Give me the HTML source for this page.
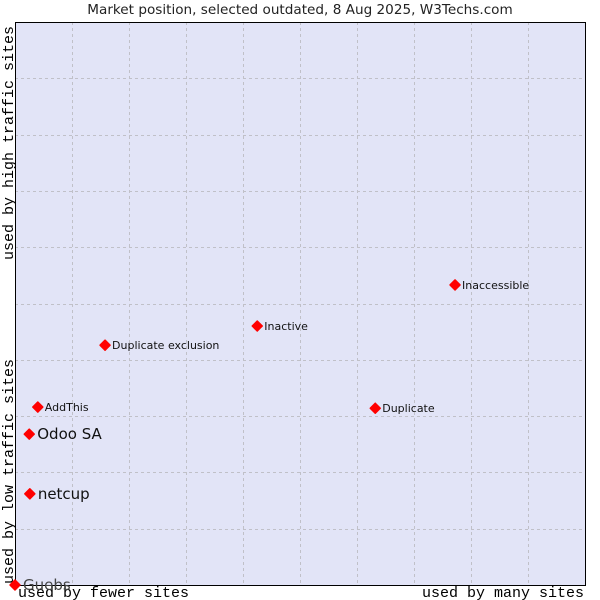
<!DOCTYPE html>
<html><head><meta charset="utf-8"><style>
html,body{margin:0;padding:0;background:#fff;width:600px;height:600px;overflow:hidden}
svg{display:block}
</style></head><body>
<svg id="chart" width="600" height="600" xmlns="http://www.w3.org/2000/svg">
<text x="300" y="14" text-anchor="middle" font-family="DejaVu Sans, sans-serif" font-size="13.6" fill="#222">Market position, selected outdated, 8 Aug 2025, W3Techs.com</text>
<rect x="15" y="22" width="570" height="563" fill="#e2e4f7"/>
<g id="grid"></g>
<line x1="15.5" y1="22" x2="15.5" y2="586" stroke="#000"/>
<line x1="15" y1="585.5" x2="586" y2="585.5" stroke="#000"/>
<line x1="15" y1="22.5" x2="585" y2="22.5" stroke="#000"/>
<line x1="585.5" y1="22" x2="585.5" y2="586" stroke="#000"/>
<text x="18" y="597" font-family="Liberation Mono, monospace" font-size="15" fill="#000">used by fewer sites</text>
<text x="584" y="597" text-anchor="end" font-family="Liberation Mono, monospace" font-size="15" fill="#000">used by many sites</text>
<text transform="translate(13,584) rotate(-90)" font-family="Liberation Mono, monospace" font-size="15" fill="#000">used by low traffic sites</text>
<text transform="translate(13,260) rotate(-90)" font-family="Liberation Mono, monospace" font-size="15" fill="#000">used by high traffic sites</text>
<g id="points"></g>
</svg>
<script>
const labels = ["Guebs","netcup","Odoo SA","AddThis","Duplicate exclusion","Inactive","Inaccessible","Duplicate"];
const xValues = [0,2.6,2.5,4.0,15.8,42.5,77.2,63.2];
const yValues = [0,16.2,26.8,31.6,42.6,46.0,53.3,31.4];
const bigLabel = [true,true,true,false,false,false,false,false];
const NS="http://www.w3.org/2000/svg";
const X0=15,X1=585,Y0=585,Y1=22;
function sx(v){return X0+(X1-X0)*v/100;}
function sy(v){return Y0-(Y0-Y1)*v/100;}
const grid=document.getElementById('grid');
for(let i=1;i<10;i++){
  const v=document.createElementNS(NS,'line');
  
  
  const x=Math.round(sx(i*10))+0.5;
  v.setAttribute('x1',x);v.setAttribute('x2',x);v.setAttribute('y1',Y1);v.setAttribute('y2',Y0);
  v.setAttribute('stroke','#c0c0c8');v.setAttribute('stroke-dasharray','3,3');
  grid.appendChild(v);
  const h=document.createElementNS(NS,'line');
  
  
  const y=Math.round(sy(i*10))+0.5;
  h.setAttribute('x1',X0);h.setAttribute('x2',X1);h.setAttribute('y1',y);h.setAttribute('y2',y);
  h.setAttribute('stroke','#c0c0c8');h.setAttribute('stroke-dasharray','3,3');
  grid.appendChild(h);
}
const pts=document.getElementById('points');
labels.forEach((l,i)=>{
  const x=sx(xValues[i]),y=sy(yValues[i]);
  const d=document.createElementNS(NS,'path');
  
  
  d.setAttribute('d',`M${x} ${y-5}L${x+5} ${y}L${x} ${y+5}L${x-5} ${y}Z`);
  d.setAttribute('fill','#f00');
  d.setAttribute('stroke','#f00');
  d.setAttribute('stroke-width','1.5');
  d.setAttribute('stroke-linejoin','round');
  pts.appendChild(d);
  const t=document.createElementNS(NS,'text');
  
  
  t.setAttribute('x',x+(bigLabel[i]?8:7));
  t.setAttribute('y',y+(bigLabel[i]?5:4));
  t.setAttribute('font-family','DejaVu Sans, sans-serif');
  t.setAttribute('font-size',bigLabel[i]?'15':'11');
  t.setAttribute('fill',i===0?'#444':'#111');
  t.textContent=l;
  pts.appendChild(t);
});
</script>
</body></html>
